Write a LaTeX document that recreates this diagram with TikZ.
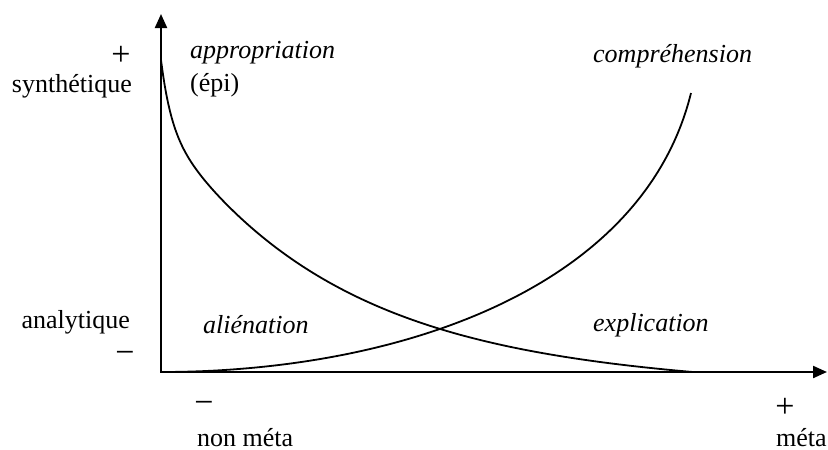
\documentclass[tikz,border=0pt]{standalone}
\usepackage{fontspec}
\setmainfont{Liberation Serif}
\usepackage{tikz}
\usetikzlibrary{
  arrows.meta,
  positioning
}
\tikzset{
  axis/.style={
    line width=2.2pt,
    {Triangle[length=14pt, width=12pt]}-{Triangle[length=14pt, width=12pt]}
  },
  curve/.style={line width=1.8pt},
  lbl/.style={font=\fontsize{26}{30}\selectfont, inner sep=0pt},
  sign/.style={font=\fontsize{34}{36}\selectfont, inner sep=0pt},
  term/.style={lbl, font=\fontsize{26}{30}\selectfont\itshape},
}

\begin{document}
\begin{tikzpicture}[x=1pt, y=-1pt]

\useasboundingbox (0,0) rectangle (828,450);

% Axes
\coordinate (origin) at (161,372);
\coordinate (ytip) at (161,14);
\coordinate (xtip) at (827,372);
\draw[axis] (ytip) -- (origin) -- (xtip);

% Vertical axis labels
\node[sign] (plusy) at (121,56) {+};
\node[lbl, anchor=base east] (synth) at (132,92) {synthétique};
\node[lbl, anchor=base east] (analyt) at (130,328) {analytique};
\node[sign] (minusy) at (125,357) {−};

% Horizontal axis labels
\node[sign] (minusx) at (204,407) {−};
\node[lbl, anchor=base west] (nonmeta) at (197,446) {non méta};
\node[sign] (plusx) at (785,408) {+};
\node[lbl, anchor=base west] (meta) at (776,446) {méta};

% Quadrant terms
\node[term, anchor=base west] (appro) at (190,58) {appropriation};
\node[lbl, anchor=base west] (epi) at (190,91) {(épi)};
\node[term, anchor=base west] (compr) at (593,62) {compréhension};
\node[term, anchor=base west] (alien) at (203,333) {aliénation};
\node[term, anchor=base west] (expli) at (593,331) {explication};

% Curves
\draw[curve] plot[domain=0:531, samples=300, variable=\t]
  ({161+\t}, {372-(247*exp(-0.0058*\t)+65*exp(-0.1*\t)-11.3*\t/531)});
\coordinate (lowstart) at (161,372);
\coordinate (highend) at (691,93);
\draw[curve] (lowstart) .. controls (400,372) and (643,288) .. (highend);

\end{tikzpicture}
\end{document}
